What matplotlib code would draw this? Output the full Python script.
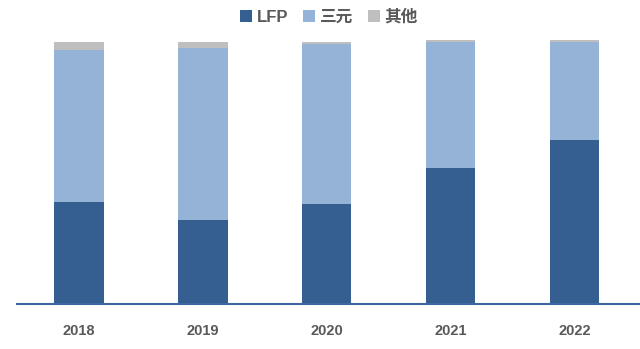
import matplotlib.pyplot as plt
from matplotlib.patches import Patch
import numpy as np

years = ['2018', '2019', '2020', '2021', '2022']
lfp = [38.9, 32.1, 38.2, 51.9, 62.6]
ncm = [58.0, 65.8, 61.1, 48.1, 37.4]
other = [3.1, 2.2, 0.8, 0.8, 0.8]
series_names = ['LFP', '三元', '其他']
colors = ['#355f91', '#95b3d7', '#bfbfbf']

plt.rcParams['font.family'] = ['Liberation Sans', 'Noto Sans CJK SC']

fig = plt.figure(figsize=(6.4, 3.49), dpi=100)
ax = fig.add_axes([17 / 640, 44.7 / 349, 623 / 640, 264.3 / 349])

x = np.arange(len(years))
bottom = np.zeros(len(years))
for vals, c in zip([lfp, ncm, other], colors):
    ax.bar(x, vals, width=0.4, bottom=bottom, color=c, linewidth=0)
    bottom += np.array(vals)

ax.set_xlim(-0.5, 4.53)
ax.set_ylim(0, 100.8)
for side in ['top', 'right', 'left']:
    ax.spines[side].set_visible(False)
ax.spines['bottom'].set_color('#3e66a0')
ax.spines['bottom'].set_linewidth(1.5)
ax.set_yticks([])
ax.set_xticks(x)
ax.set_xticklabels(years, fontsize=10.5, fontweight='bold', color='#595959')
ax.tick_params(axis='x', length=0, pad=14)

handles = [Patch(facecolor=c, edgecolor='none') for c in colors]
fig.legend(handles, series_names, loc='center', bbox_to_anchor=(329 / 640, 1 - 17 / 349),
           ncol=3, frameon=False, handlelength=0.7, handleheight=0.7,
           handletextpad=0.3, columnspacing=0.9,
           prop={'size': 12, 'weight': 'bold'}, labelcolor='#595959')

plt.savefig('out.png', dpi=100)
